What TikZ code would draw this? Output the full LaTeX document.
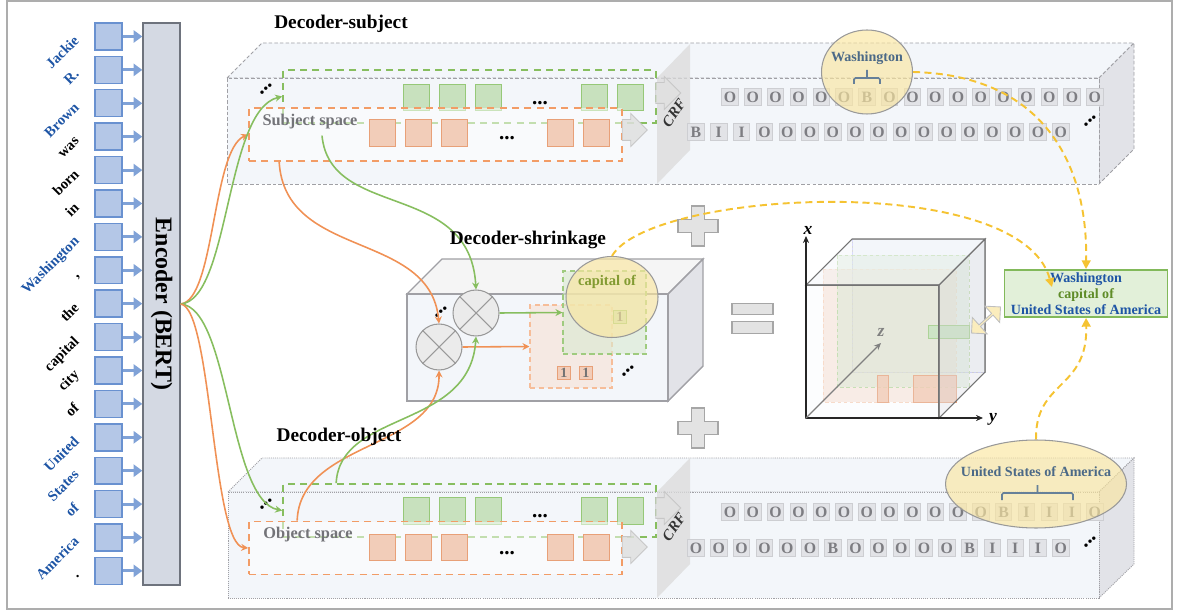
\documentclass[tikz,border=0pt]{standalone}
\usepackage{fontspec}
\setmainfont{Liberation Serif}
\usetikzlibrary{
	arrows.meta,shapes.geometric,shapes.arrows,positioning,calc
}

\definecolor{entblue}{RGB}{30,85,165}
\definecolor{tokfill}{RGB}{180,199,231}
\definecolor{tokdraw}{RGB}{105,145,208}
\definecolor{encfill}{RGB}{212,217,227}
\definecolor{encdraw}{RGB}{110,115,125}
\definecolor{lnorange}{RGB}{240,145,85}
\definecolor{lngreen}{RGB}{135,190,95}
\definecolor{sqgreen}{RGB}{200,225,190}
\definecolor{sqgreendraw}{RGB}{150,200,120}
\definecolor{sqorange}{RGB}{242,205,185}
\definecolor{sqorangedraw}{RGB}{232,160,120}
\definecolor{boxfront}{RGB}{243,246,250}
\definecolor{boxside}{RGB}{226,227,232}
\definecolor{boxline}{RGB}{160,160,165}
\definecolor{tagfill}{RGB}{226,227,231}
\definecolor{tagdraw}{RGB}{205,206,210}
\definecolor{tagtext}{RGB}{125,125,130}
\definecolor{spacegray}{RGB}{115,115,120}
\definecolor{hlyellow}{RGB}{250,230,160}
\definecolor{hltext}{RGB}{75,105,135}
\definecolor{dashyellow}{RGB}{245,195,50}
\definecolor{capgreen}{RGB}{130,155,50}
\definecolor{resfill}{RGB}{226,240,217}
\definecolor{resdraw}{RGB}{130,185,90}
\definecolor{resgreen}{RGB}{95,140,40}

\tikzset{
	tok/.style={
		rectangle, minimum size=5.4mm, inner sep=0pt,
		line width=0.8pt, draw=tokdraw, fill=tokfill
	},
	%
	toktext/.style={
		rotate=45, anchor=base east, inner sep=0pt,
		font=\bfseries\fontsize{8.3}{9}\selectfont
	},
	%
	tokarrow/.style={
		-{Triangle[length=5pt,width=7pt]}, draw=tokdraw!85, line width=1.6pt
	},
	%
	encoder/.style={
		rectangle, minimum width=7.4mm, minimum height=112.4mm, inner sep=0pt,
		line width=0.8pt, draw=encdraw, fill=encfill,
		font=\bfseries\fontsize{13.6}{15}\selectfont
	},
	%
	title/.style={font=\bfseries\fontsize{11}{13}\selectfont},
	%
	subjbox/.style={draw=boxline, fill=boxfront, line width=0.5pt, dash pattern=on 2pt off 1.2pt},
	objbox/.style={draw=boxline, fill=boxfront, line width=0.5pt, dash pattern=on 0.6pt off 0.6pt},
	shrbox/.style={draw=boxline, fill=boxfront, line width=0.8pt},
	%
	gspace/.style={
		rectangle, inner sep=0pt, minimum width=74.6mm, minimum height=10.6mm,
		draw=lngreen, line width=1pt, dash pattern=on 4pt off 3pt
	},
	%
	ospace/.style={
		rectangle, inner sep=0pt, minimum width=74.6mm, minimum height=10.6mm,
		draw=lnorange!90, line width=1pt, dash pattern=on 4pt off 3pt,
		fill=white, fill opacity=0.5
	},
	%
	gsq/.style={
		rectangle, minimum size=5.3mm, inner sep=0pt,
		line width=0.6pt, draw=sqgreendraw, fill=sqgreen
	},
	%
	osq/.style={
		rectangle, minimum size=5.3mm, inner sep=0pt,
		line width=0.6pt, draw=sqorangedraw, fill=sqorange
	},
	%
	spacetext/.style={text=spacegray, font=\bfseries\fontsize{9.3}{11}\selectfont},
	%
	grayarrow/.style={
		single arrow, inner xsep=0pt, inner ysep=2mm, minimum height=5mm,
		single arrow head extend=1.2mm, draw=black!22, fill=black!12, fill opacity=0.85,
		line width=0.5pt
	},
	%
	crfpanel/.style={fill=black!14, fill opacity=0.75},
	crftext/.style={rotate=55, text=black!80, font=\bfseries\itshape\fontsize{8.5}{9}\selectfont},
	%
	tag/.style={
		rectangle, minimum size=3.3mm, inner sep=0pt, line width=0.5pt,
		fill=tagfill, draw=tagdraw, text=tagtext,
		font=\bfseries\fontsize{9}{9}\selectfont
	},
	%
	hl/.style={
		ellipse, inner sep=0pt, draw=black!40, line width=0.6pt,
		fill=hlyellow, fill opacity=0.65
	},
	%
	hltext/.style={text=hltext, font=\bfseries\fontsize{8}{9}\selectfont},
	hlbracket/.style={draw=hltext!85, line width=0.9pt, rounded corners=0.8pt},
	%
	dotsh/.style={inner sep=0pt, font=\bfseries\fontsize{12}{12}\selectfont},
	dotsd/.style={inner sep=0pt, rotate=42, font=\bfseries\fontsize{12}{12}\selectfont},
	%
	olink/.style={-{Stealth[length=4pt,width=4pt]}, draw=lnorange, line width=0.9pt},
	glink/.style={-{Stealth[length=4pt,width=4pt]}, draw=lngreen, line width=0.9pt},
	ylink/.style={
		-{Triangle[length=5pt,width=5pt]}, draw=dashyellow,
		dash pattern=on 4pt off 2.5pt, line width=1.1pt
	},
	%
	mult/.style={
		circle, minimum size=9.2mm, inner sep=0pt,
		draw=black!40, fill=black!8, line width=0.6pt
	},
	multx/.style={draw=black!40, line width=0.6pt},
	%
	orect/.style={
		rectangle, inner sep=0pt, draw=lnorange!60, fill=sqorange!60, fill opacity=0.6,
		dash pattern=on 3pt off 2pt, line width=0.6pt
	},
	grect/.style={
		rectangle, inner sep=0pt, draw=lngreen!80, fill=sqgreen!70, fill opacity=0.6,
		dash pattern=on 3pt off 2pt, line width=0.6pt
	},
	%
	onebox/.style={
		rectangle, minimum size=2.6mm, inner sep=0pt, line width=0.5pt,
		text=black!55, font=\bfseries\fontsize{8}{8}\selectfont
	},
	%
	plusmark/.style={fill=black!11, draw=black!35, line width=0.6pt},
	eqbar/.style={
		rectangle, minimum width=8.2mm, minimum height=2.3mm, inner sep=0pt,
		fill=black!11, draw=black!35, line width=0.6pt
	},
	%
	axis/.style={-{Stealth[length=4pt,width=3.5pt]}, line width=1pt, draw=black!85},
	axlabel/.style={inner sep=0pt, font=\bfseries\itshape\fontsize{10}{10}\selectfont},
	%
	resbox/.style={
		rectangle, minimum width=32.6mm, minimum height=9.4mm, inner sep=0pt,
		align=center, draw=resdraw, fill=resfill, line width=1pt,
		font=\bfseries\fontsize{8}{9.1}\selectfont
	},
	%
	dblarrow/.style={
		double arrow, inner sep=0pt, minimum height=7.8mm, minimum width=4.4mm,
		double arrow head extend=0.8mm, rotate=42,
		fill=hlyellow!70, draw=black!25, line width=0.5pt
	}
}

\begin{document}
\begin{tikzpicture}[x=0.02cm, y=-0.02cm]
    \useasboundingbox (0,0) rectangle (1179,614);
    \draw[black!32, line width=1.2pt] (7,1) rectangle (1172,609);

    % input sentence and encoder
    \node[encoder] (enc) at (161.5,304) {\rotatebox{-90}{Encoder (BERT)}};
    \foreach \w/\col [count=\i from 0] in {Jackie/entblue, R./entblue, Brown/entblue, was/black, born/black, in/black, Washington/entblue, {,}/black, the/black, capital/black, city/black, of/black, United/entblue, States/entblue, of/entblue, America/entblue, ./black}{
        \node[tok] (t\i) at (108.5,{36.5+\i*33.4}) {};
        \node[toktext, text=\col] (w\i) at (80,{41.5+\i*33.4}) {\w};
        \draw[tokarrow] (t\i.east) -- (t\i.east -| enc.west);
    }

    % decoder-subject
    \filldraw[subjbox] (227,78) -- (262,43) -- (1134,43) -- (1099,78) -- cycle;
    \filldraw[subjbox, fill=boxside] (1099,78) -- (1134,43) -- (1134,149) -- (1099,184) -- cycle;
    \filldraw[subjbox] (227,78) rectangle (1099,184);
    \node[gspace] (sgb) at (469.5,96.5) {};
    \foreach \x [count=\i] in {416.5,452.5,488.5,594.5,630.5}
        \node[gsq] (sg\i) at (\x,97.5) {};
    \node[dotsh] (sgdots) at (540,103) {...};
    \node[ospace] (sob) at (435.5,134.5) {};
    \foreach \x [count=\i] in {382.5,418.5,454.5,560.5,596.5}
        \node[osq] (so\i) at (\x,133) {};
    \node[dotsh] (sodots) at (507,138) {...};
    \node[spacetext] (sspace) at (310,122) {Subject space};
    \node[dotsd] (sdots) at (266,89) {...};
    \fill[crfpanel] (657,78) -- (690,44) -- (690,150) -- (657,184) -- cycle;
    \node[grayarrow] (sgarr) at (663,93) {};
    \node[grayarrow] (soarr) at (629.5,130) {};
    \node[crftext] (scrf) at (674,113) {CRF};
    \foreach \lab [count=\i from 0] in {O,O,O,O,O,O,B,O,O,O,O,O,O,O,O,O,O}
        \node[tag] (sa\i) at ({730+\i*22.8},97) {\lab};
    \foreach \lab [count=\i from 0] in {B,I,I,O,O,O,O,O,O,O,O,O,O,O,O,O,O}
        \node[tag] (sb\i) at ({696+\i*22.8},132) {\lab};
    \node[dotsd] (stdots) at (1090,121) {...};
    \node[hl, minimum width=18.2mm, minimum height=16.8mm] (swash) at (867,72) {};
    \node[hltext] (swasht) at (867,58) {Washington};
    \draw[hlbracket] (854,84) -- (854,78) -- (880,78) -- (880,84) (867,78) -- (867,70);

    % decoder-object
    \filldraw[objbox] (228,492) -- (262,458) -- (1134,458) -- (1099,492) -- cycle;
    \filldraw[objbox, fill=boxside] (1099,492) -- (1134,458) -- (1134,564) -- (1099,598) -- cycle;
    \filldraw[objbox] (228,492) rectangle (1099,598);
    \node[gspace] (ogb) at (469.5,510.5) {};
    \foreach \x [count=\i] in {416.5,452.5,488.5,594.5,630.5}
        \node[gsq] (og\i) at (\x,511) {};
    \node[dotsh] (ogdots) at (540,516) {...};
    \node[ospace] (oob) at (435.5,548) {};
    \foreach \x [count=\i] in {382.5,418.5,454.5,560.5,596.5}
        \node[osq] (oo\i) at (\x,547.5) {};
    \node[dotsh] (oodots) at (507,553) {...};
    \node[spacetext] (ospacet) at (308,535) {Object space};
    \node[dotsd] (odots) at (266,504) {...};
    \fill[crfpanel] (657,492) -- (690,458) -- (690,564) -- (657,598) -- cycle;
    \node[grayarrow] (ogarr) at (663,508) {};
    \node[grayarrow] (ooarr) at (629.5,547) {};
    \node[crftext] (ocrf) at (674,527) {CRF};
    \foreach \lab [count=\i from 0] in {O,O,O,O,O,O,O,O,O,O,O,O,B,I,I,I,O}
        \node[tag] (oa\i) at ({730+\i*22.8},512) {\lab};
    \foreach \lab [count=\i from 0] in {O,O,O,O,O,O,B,O,O,O,O,O,B,I,I,I,O}
        \node[tag] (ob\i) at ({696+\i*22.8},548) {\lab};
    \node[dotsd] (otdots) at (1090,542) {...};
    \node[hl, minimum width=36.2mm, minimum height=17.6mm] (ousa) at (1036,484) {};
    \node[hltext] (ousat) at (1036,472) {United States of America};
    \draw[hlbracket] (1002,500) -- (1002,493) -- (1073,493) -- (1073,500) (1037.5,493) -- (1037.5,485);

    % decoder-shrinkage
    \filldraw[shrbox, fill=black!4] (407,294) -- (442,259) -- (703,259) -- (668,294) -- cycle;
    \filldraw[shrbox, fill=boxside] (668,294) -- (703,259) -- (703,366) -- (668,401) -- cycle;
    \filldraw[shrbox] (407,294) rectangle (668,401);
    \node[orect, minimum width=16.4mm, minimum height=16.6mm] (orect) at (571,346.5) {};
    \node[grect, minimum width=16.6mm, minimum height=16.6mm] (grect) at (604.5,312.5) {};
    \node[onebox, draw=sqorangedraw, fill=sqorange] (one1) at (564,373) {1};
    \node[onebox, draw=sqorangedraw, fill=sqorange] (one2) at (586,373) {1};
    \node[onebox, draw=sqgreendraw, fill=sqgreen] (one3) at (620,317) {1};
    \node[hl, minimum width=18.4mm, minimum height=16.2mm] (cap) at (612,297) {};
    \node[font=\bfseries\fontsize{8.3}{9}\selectfont, text=capgreen] (capt) at (607,282) {capital of};
    \node[mult] (mulU) at (476,313) {};
    \node[mult] (mulL) at (439,347) {};
    \draw[multx] (mulU.45) -- (mulU.225) (mulU.135) -- (mulU.315);
    \draw[multx] (mulL.45) -- (mulL.225) (mulL.135) -- (mulL.315);
    \draw[glink] (mulU.east) -- (grect.west);
    \draw[olink] (mulL.east) -- (orect.west);
    \node[dotsd] (mdots) at (441,312) {...};
    \node[dotsd] (rdots) at (628,371) {...};

    % plus and equal signs
    \draw[plusmark, shift={(698,226)}] (-6.5,-20) -- (6.5,-20) -- (6.5,-6.5) -- (20,-6.5) -- (20,6.5) -- (6.5,6.5) -- (6.5,20) -- (-6.5,20) -- (-6.5,6.5) -- (-20,6.5) -- (-20,-6.5) -- (-6.5,-6.5) -- cycle;
    \draw[plusmark, shift={(698,428)}] (-6.5,-20) -- (6.5,-20) -- (6.5,-6.5) -- (20,-6.5) -- (20,6.5) -- (6.5,6.5) -- (6.5,20) -- (-6.5,20) -- (-6.5,6.5) -- (-20,6.5) -- (-20,-6.5) -- (-6.5,-6.5) -- cycle;
    \node[eqbar] (eqA) at (752.5,309) {};
    \node[eqbar] (eqB) at (752.5,327.5) {};

    % 3d tensor
    \filldraw[fill=boxfront, draw=black!25, line width=0.5pt] (852,239) rectangle (985,372);
    \draw[blue!25, dash pattern=on 1.5pt off 1pt, line width=0.5pt] (852,239) -- (852,372) -- (985,372);
    \filldraw[fill=sqorange!80, fill opacity=0.55, draw=lnorange!40, dash pattern=on 2pt off 1.5pt, line width=0.5pt] (823,269) rectangle (956,402);
    \filldraw[fill=sqgreen!90, fill opacity=0.45, draw=lngreen!60, dash pattern=on 2pt off 1.5pt, line width=0.5pt] (837,255) rectangle (969,387);
    \filldraw[fill=sqgreen!90!lngreen, draw=sqgreendraw, line width=0.5pt] (928,325) rectangle (969,338);
    \filldraw[fill=sqorange!80!lnorange, fill opacity=0.8, draw=sqorangedraw, line width=0.5pt] (877,375) rectangle (888,402);
    \filldraw[fill=sqorange!80!lnorange, fill opacity=0.8, draw=sqorangedraw, line width=0.5pt] (913,375) rectangle (956,402);
    \filldraw[fill=boxfront, fill opacity=0.25, draw=black!55, line width=0.6pt] (806,285) rectangle (939,418);
    \filldraw[fill=boxfront, fill opacity=0.5, draw=black!55, line width=0.6pt] (806,285) -- (852,239) -- (985,239) -- (939,285) -- cycle;
    \filldraw[fill=boxside, fill opacity=0.45, draw=black!55, line width=0.6pt] (939,285) -- (985,239) -- (985,372) -- (939,418) -- cycle;
    \coordinate (org) at (806,418);
    \coordinate (xtip) at (806,236);
    \coordinate (ytip) at (983,418);
    \coordinate (ztip) at (881,343);
    \draw[axis] (org) -- (xtip);
    \draw[axis] (org) -- (ytip);
    \draw[-{Stealth[length=4pt,width=3.5pt]}, draw=black!50, line width=0.7pt] (org) -- (ztip);
    \node[axlabel] (xl) at (808,230) {x};
    \node[axlabel] (yl) at (993,419) {y};
    \node[axlabel, text=black!50] (zl) at (881,332) {z};
    \node[dblarrow] (dbl) at (986,320) {};

    % result
    \node[resbox] (res) at (1086,293.5) {\textcolor{entblue}{Washington}\\ \textcolor{resgreen}{capital of}\\ \textcolor{entblue}{United States of America}};
    \coordinate (capend) at (1052,287);
    \draw[ylink] (cap.north) .. controls (650,190) and (1020,170) .. (capend);
    \draw[ylink] (swash.east) .. controls (1040,75) and (1088,160) .. (res.north);
    \draw[ylink] (ousa.north) .. controls (1035,380) and (1088,390) .. (res.south);

    % encoder fan-out
    \draw[olink] (enc.east) .. controls (215,300) and (212,150) .. (sob.west);
    \draw[glink] (enc.east) .. controls (230,300) and (225,110) .. (sgb.west);
    \draw[glink] (enc.east) .. controls (230,308) and (228,500) .. (ogb.west);
    \draw[olink] (enc.east) .. controls (212,308) and (212,545) .. (oob.west);

    % spaces to shrinkage
    \draw[olink] ([xshift=6.2mm]sob.south west) .. controls (285,260) and (430,230) .. (mulL.north);
    \draw[glink] ([xshift=2.4mm]sspace.south) .. controls (330,220) and (470,180) .. (mulU.north);
    \draw[olink] ([xshift=9.8mm]oob.north west) .. controls (300,440) and (440,450) .. (mulL.south);
    \draw[glink] ([xshift=10.8mm]ogb.north west) .. controls (340,410) and (470,430) .. (mulU.south);

    % titles
    \node[title] (tsub) at (341,24) {Decoder-subject};
    \node[title] (tshr) at (528,240) {Decoder-shrinkage};
    \node[title] (tobj) at (339,437) {Decoder-object};
\end{tikzpicture}
\end{document}
